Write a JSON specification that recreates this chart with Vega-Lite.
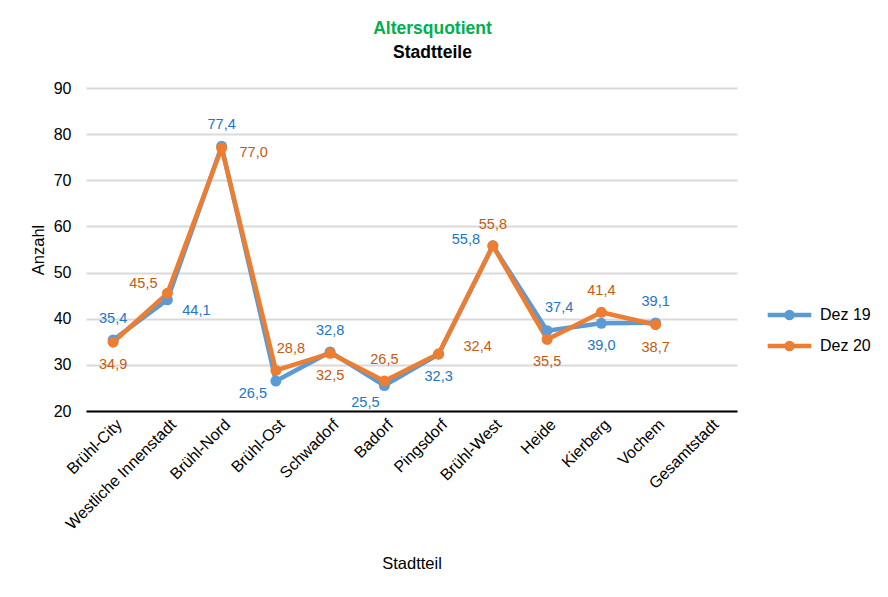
{
  "$schema": "https://vega.github.io/schema/vega-lite/v6.json",
  "autosize": {"type": "none"},
  "width": 651,
  "height": 323,
  "padding": {"left": 86, "top": 88, "right": 151, "bottom": 186},
  "background": "white",
  "config": {
    "font": "Liberation Sans",
    "locale": {"number": {"decimal": ",", "thousands": ".", "grouping": [3], "currency": ["", " €"]}},
    "view": {"stroke": null}
  },
  "title": {
    "text": "Altersquotient",
    "subtitle": "Stadtteile",
    "anchor": "middle",
    "dx": 21,
    "offset": 19,
    "font": "Liberation Sans",
    "fontSize": 17.5,
    "fontWeight": "bold",
    "color": "#00B050",
    "subtitleFont": "Liberation Sans",
    "subtitleFontSize": 17.5,
    "subtitleFontWeight": "bold",
    "subtitleColor": "#000000",
    "subtitlePadding": 6
  },
  "data": {
    "values": [
      {"Stadtteil": "Brühl-City", "Serie": "Dez 19", "Wert": 35.4},
      {"Stadtteil": "Westliche Innenstadt", "Serie": "Dez 19", "Wert": 44.1},
      {"Stadtteil": "Brühl-Nord", "Serie": "Dez 19", "Wert": 77.4},
      {"Stadtteil": "Brühl-Ost", "Serie": "Dez 19", "Wert": 26.5},
      {"Stadtteil": "Schwadorf", "Serie": "Dez 19", "Wert": 32.8},
      {"Stadtteil": "Badorf", "Serie": "Dez 19", "Wert": 25.5},
      {"Stadtteil": "Pingsdorf", "Serie": "Dez 19", "Wert": 32.3},
      {"Stadtteil": "Brühl-West", "Serie": "Dez 19", "Wert": 55.8},
      {"Stadtteil": "Heide", "Serie": "Dez 19", "Wert": 37.4},
      {"Stadtteil": "Kierberg", "Serie": "Dez 19", "Wert": 39.0},
      {"Stadtteil": "Vochem", "Serie": "Dez 19", "Wert": 39.1},
      {"Stadtteil": "Brühl-City", "Serie": "Dez 20", "Wert": 34.9},
      {"Stadtteil": "Westliche Innenstadt", "Serie": "Dez 20", "Wert": 45.5},
      {"Stadtteil": "Brühl-Nord", "Serie": "Dez 20", "Wert": 77.0},
      {"Stadtteil": "Brühl-Ost", "Serie": "Dez 20", "Wert": 28.8},
      {"Stadtteil": "Schwadorf", "Serie": "Dez 20", "Wert": 32.5},
      {"Stadtteil": "Badorf", "Serie": "Dez 20", "Wert": 26.5},
      {"Stadtteil": "Pingsdorf", "Serie": "Dez 20", "Wert": 32.4},
      {"Stadtteil": "Brühl-West", "Serie": "Dez 20", "Wert": 55.8},
      {"Stadtteil": "Heide", "Serie": "Dez 20", "Wert": 35.5},
      {"Stadtteil": "Kierberg", "Serie": "Dez 20", "Wert": 41.4},
      {"Stadtteil": "Vochem", "Serie": "Dez 20", "Wert": 38.7}
    ]
  },
  "encoding": {
    "x": {
      "field": "Stadtteil",
      "type": "nominal",
      "sort": null,
      "scale": {
        "type": "point",
        "padding": 0.5,
        "domain": ["Brühl-City", "Westliche Innenstadt", "Brühl-Nord", "Brühl-Ost", "Schwadorf", "Badorf", "Pingsdorf", "Brühl-West", "Heide", "Kierberg", "Vochem", "Gesamtstadt"]
      },
      "axis": {
        "title": "Stadtteil",
        "titleFont": "Liberation Sans",
        "titleFontSize": 16.5,
        "titleFontWeight": "normal",
        "titleColor": "#000000",
        "titlePadding": 23,
        "labelAngle": -45,
        "labelFontSize": 16,
        "labelColor": "#000000",
        "labelPadding": 5,
        "ticks": false,
        "domainColor": "#000000",
        "domainWidth": 2,
        "grid": false
      }
    },
    "y": {
      "field": "Wert",
      "type": "quantitative",
      "scale": {"domain": [20, 90], "nice": false, "zero": false},
      "axis": {
        "title": "Anzahl",
        "titleFont": "Liberation Sans",
        "titleFontSize": 16.5,
        "titleFontWeight": "normal",
        "titleColor": "#000000",
        "titlePadding": 7,
        "values": [20, 30, 40, 50, 60, 70, 80, 90],
        "labelFontSize": 16,
        "labelColor": "#000000",
        "labelPadding": 15,
        "ticks": false,
        "domain": false,
        "gridColor": "#D9D9D9",
        "gridWidth": 2
      }
    }
  },
  "layer": [
    {
      "mark": {"type": "line", "strokeWidth": 4.5, "strokeJoin": "round", "point": {"filled": true, "size": 120, "opacity": 1}},
      "encoding": {
        "color": {
          "field": "Serie",
          "type": "nominal",
          "scale": {"domain": ["Dez 19", "Dez 20"], "range": ["#5B9BD5", "#ED7D31"]},
          "legend": {
            "title": null,
            "orient": "none",
            "legendX": 679,
            "legendY": 217,
            "symbolType": "M-1,0L1,0M0.14,0A0.14,0.14 0 1,1 -0.14,0A0.14,0.14 0 1,1 0.14,0",
            "symbolStrokeWidth": 4.5,
            "symbolSize": 1900,
            "clipHeight": 20,
            "labelFontSize": 16,
            "labelColor": "#000000",
            "labelOffset": 6,
            "rowPadding": 11
          }
        }
      }
    },
    {
      "transform": [{"filter": "(datum.Serie == 'Dez 19' && indexof(['Brühl-City','Brühl-Nord','Schwadorf','Vochem'], datum.Stadtteil) >= 0) || (datum.Serie == 'Dez 20' && indexof(['Badorf','Kierberg','Brühl-West'], datum.Stadtteil) >= 0)"}],
      "mark": {"type": "text", "fontSize": 14.5, "baseline": "middle", "dy": -21},
      "encoding": {
        "text": {"field": "Wert", "type": "quantitative", "format": ".1f"},
        "color": {"condition": {"test": "datum.Serie == 'Dez 19'", "value": "#2176C3"}, "value": "#C55A11"}
      }
    },
    {
      "transform": [{"filter": "(datum.Serie == 'Dez 19' && indexof(['Kierberg','Pingsdorf'], datum.Stadtteil) >= 0) || (datum.Serie == 'Dez 20' && indexof(['Brühl-City','Schwadorf','Heide','Vochem'], datum.Stadtteil) >= 0)"}],
      "mark": {"type": "text", "fontSize": 14.5, "baseline": "middle", "dy": 23},
      "encoding": {
        "text": {"field": "Wert", "type": "quantitative", "format": ".1f"},
        "color": {"condition": {"test": "datum.Serie == 'Dez 19'", "value": "#2176C3"}, "value": "#C55A11"}
      }
    },
    {
      "transform": [{"filter": "datum.Serie == 'Dez 19' && datum.Stadtteil == 'Westliche Innenstadt'"}],
      "mark": {"type": "text", "fontSize": 14.5, "baseline": "middle", "dx": 29, "dy": 11, "color": "#2176C3"},
      "encoding": {"text": {"field": "Wert", "type": "quantitative", "format": ".1f"}}
    },
    {
      "transform": [{"filter": "datum.Serie == 'Dez 19' && datum.Stadtteil == 'Brühl-Ost'"}],
      "mark": {"type": "text", "fontSize": 14.5, "baseline": "middle", "dx": -23, "dy": 13, "color": "#2176C3"},
      "encoding": {"text": {"field": "Wert", "type": "quantitative", "format": ".1f"}}
    },
    {
      "transform": [{"filter": "datum.Serie == 'Dez 19' && datum.Stadtteil == 'Badorf'"}],
      "mark": {"type": "text", "fontSize": 14.5, "baseline": "middle", "dx": -19, "dy": 17, "color": "#2176C3"},
      "encoding": {"text": {"field": "Wert", "type": "quantitative", "format": ".1f"}}
    },
    {
      "transform": [{"filter": "datum.Serie == 'Dez 19' && datum.Stadtteil == 'Brühl-West'"}],
      "mark": {"type": "text", "fontSize": 14.5, "baseline": "middle", "dx": -27, "dy": -6, "color": "#2176C3"},
      "encoding": {"text": {"field": "Wert", "type": "quantitative", "format": ".1f"}}
    },
    {
      "transform": [{"filter": "datum.Serie == 'Dez 19' && datum.Stadtteil == 'Heide'"}],
      "mark": {"type": "text", "fontSize": 14.5, "baseline": "middle", "dx": 12, "dy": -23, "color": "#2176C3"},
      "encoding": {"text": {"field": "Wert", "type": "quantitative", "format": ".1f"}}
    },
    {
      "transform": [{"filter": "datum.Serie == 'Dez 20' && datum.Stadtteil == 'Westliche Innenstadt'"}],
      "mark": {"type": "text", "fontSize": 14.5, "baseline": "middle", "dx": -24, "dy": -9, "color": "#C55A11"},
      "encoding": {"text": {"field": "Wert", "type": "quantitative", "format": ".1f"}}
    },
    {
      "transform": [{"filter": "datum.Serie == 'Dez 20' && datum.Stadtteil == 'Brühl-Nord'"}],
      "mark": {"type": "text", "fontSize": 14.5, "baseline": "middle", "dx": 32, "dy": 5, "color": "#C55A11"},
      "encoding": {"text": {"field": "Wert", "type": "quantitative", "format": ".1f"}}
    },
    {
      "transform": [{"filter": "datum.Serie == 'Dez 20' && datum.Stadtteil == 'Brühl-Ost'"}],
      "mark": {"type": "text", "fontSize": 14.5, "baseline": "middle", "dx": 15, "dy": -21, "color": "#C55A11"},
      "encoding": {"text": {"field": "Wert", "type": "quantitative", "format": ".1f"}}
    },
    {
      "transform": [{"filter": "datum.Serie == 'Dez 20' && datum.Stadtteil == 'Pingsdorf'"}],
      "mark": {"type": "text", "fontSize": 14.5, "baseline": "middle", "dx": 39, "dy": -7, "color": "#C55A11"},
      "encoding": {"text": {"field": "Wert", "type": "quantitative", "format": ".1f"}}
    }
  ]
}
